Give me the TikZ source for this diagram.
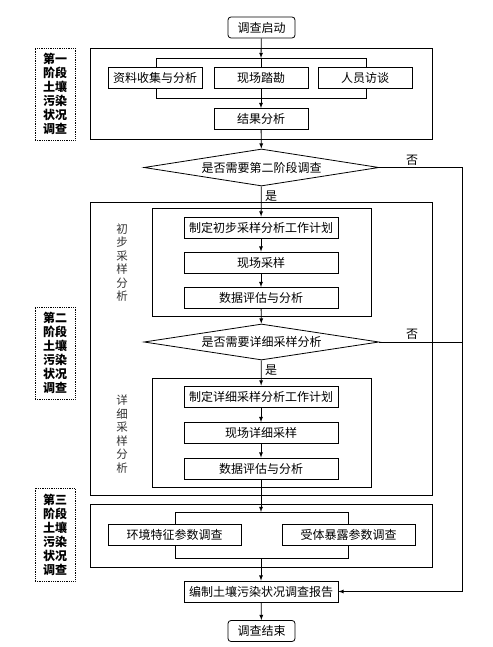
\documentclass[tikz,border=0pt]{standalone}
\usepackage{fontspec}
\setmainfont{Noto Sans CJK SC}
\usetikzlibrary{shapes.geometric}
\tikzset{
	stepbox/.style={draw, fill=white, line width=0.8pt, minimum height=21pt, inner sep=0pt, font=\fontsize{12}{14}\selectfont},
	endbox/.style={stepbox, rounded corners=3pt, minimum width=67pt},
	choice/.style={draw, fill=white, diamond, aspect=6.4, line width=0.8pt, minimum width=235pt, minimum height=37pt, inner sep=0pt, font=\fontsize{12}{14}\selectfont},
	phase/.style={draw, densely dotted, line width=0.8pt, minimum width=40pt, inner sep=0pt, align=center, font=\bfseries\fontsize{12}{14}\selectfont},
	frame/.style={draw, line width=0.8pt},
	side/.style={align=center, text=black!80, font=\fontsize{11.5}{13.5}\selectfont},
	flow/.style={-latex, line width=0.8pt},
	tag/.style={inner sep=1pt, font=\fontsize{12}{14}\selectfont}
}
\begin{document}
	\begin{tikzpicture}[x=1pt, y=-1pt]
		\useasboundingbox (0,0) rectangle (492,647);
		
		% frames
		\draw[frame] (90,48) rectangle (432,139);
		\draw[frame] (156,58) rectangle (366,98);
		\draw[frame] (90,202) rectangle (432,495);
		\draw[frame] (152,208) rectangle (371,316);
		\draw[frame] (152,378) rectangle (371,487);
		\draw[frame] (90,504) rectangle (432,567);
		\draw[frame] (175,512) rectangle (348,558);
		
		\coordinate (t1) at (261,58);
		\coordinate (u1) at (261,98);
		\coordinate (t3) at (261,512);
		\coordinate (u3) at (261,558);
		\coordinate (r1) at (462,167.5);
		\coordinate (r2) at (462,342);
		\coordinate (r3) at (462,591.5);
		
		% phase labels
		\node[phase, minimum height=92pt] (p1) at (55,94) {第一\\阶段\\土壤\\污染\\状况\\调查};
		\node[phase, minimum height=92pt] (p2) at (55,353) {第二\\阶段\\土壤\\污染\\状况\\调查};
		\node[phase, minimum height=93pt] (p3) at (55,534.5) {第三\\阶段\\土壤\\污染\\状况\\调查};
		
		\node[side] (s1) at (122,262.5) {初\\步\\采\\样\\分\\析};
		\node[side] (s2) at (122,434) {详\\细\\采\\样\\分\\析};
		
		% steps
		\node[endbox] (start) at (261.5,27.5) {调查启动};
		\node[stepbox, minimum width=94pt] (a1) at (155,78) {资料收集与分析};
		\node[stepbox, minimum width=94pt] (a2) at (261,78) {现场踏勘};
		\node[stepbox, minimum width=94pt] (a3) at (365,78) {人员访谈};
		\node[stepbox, minimum width=94pt] (res) at (261,119) {结果分析};
		\node[choice] (q1) at (261.5,167.5) {是否需要第二阶段调查};
		
		\node[stepbox, minimum width=154pt] (c1) at (261,227.5) {制定初步采样分析工作计划};
		\node[stepbox, minimum width=154pt] (c2) at (261,262.5) {现场采样};
		\node[stepbox, minimum width=154pt] (c3) at (261,298) {数据评估与分析};
		\node[choice, minimum height=36pt] (q2) at (261.5,342) {是否需要详细采样分析};
		
		\node[stepbox, minimum width=154pt] (d1) at (261,396.5) {制定详细采样分析工作计划};
		\node[stepbox, minimum width=154pt] (d2) at (261,433) {现场详细采样};
		\node[stepbox, minimum width=154pt] (d3) at (261,468.5) {数据评估与分析};
		
		\node[stepbox, minimum width=133pt] (e1) at (174.5,535) {环境特征参数调查};
		\node[stepbox, minimum width=133pt] (e2) at (348.5,535) {受体暴露参数调查};
		
		\node[stepbox, minimum width=154pt] (rep) at (261,591.5) {编制土壤污染状况调查报告};
		\node[endbox] (stop) at (261.5,631) {调查结束};
		
		% connectors
		\draw[flow] (start) -- (t1);
		\draw[line width=0.8pt] (t1) -- (a2);
		\draw[line width=0.8pt] (a2) -- (u1);
		\draw[flow] (u1) -- (res);
		\draw[flow] (res) -- (q1);
		\draw[flow] (q1) -- (c1);
		\draw[flow] (c1) -- (c2);
		\draw[flow] (c2) -- (c3);
		\draw[flow] (c3) -- (q2);
		\draw[flow] (q2) -- (d1);
		\draw[flow] (d1) -- (d2);
		\draw[flow] (d2) -- (d3);
		\draw[flow] (d3) -- (t3);
		\draw[flow] (u3) -- (rep);
		\draw[flow] (rep) -- (stop);
		
		\draw[flow] (q1.east) -- (r1) -- (r3) -- (rep.east);
		\draw[line width=0.8pt] (q2.east) -- (r2);
		
		\node[tag] (y1) at (271,196) {是};
		\node[tag] (y2) at (271,370) {是};
		\node[tag, fill=white] (n1) at (412,160) {否};
		\node[tag] (n2) at (412,334) {否};
		
	\end{tikzpicture}
\end{document}
